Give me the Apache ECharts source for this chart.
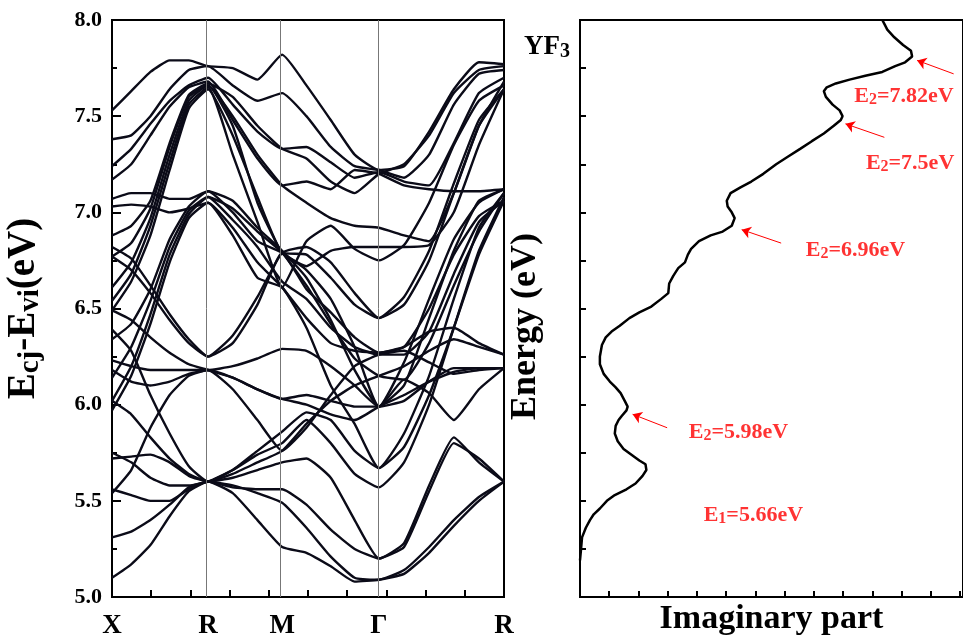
<!DOCTYPE html>
<html><head><meta charset="utf-8">
<script src="https://cdn.jsdelivr.net/npm/echarts@6/dist/echarts.min.js"></script>
<style>html,body{margin:0;padding:0;background:#fff}#c{width:963px;height:641px}</style>
</head><body><div id="c"></div>
<script>
// ---- k-path (fraction of total path) ----
const kPath = [0,0.049,0.098,0.147,0.196,0.245,0.308,0.371,0.434,0.496,0.558,0.619,0.681,0.745,0.809,0.872,0.936,1];
const kHighPos = [0, 0.245, 0.434, 0.681, 1];
const kHighLabels = ['X','R','M','Γ','R'];
const energyTicks = [5.0,5.5,6.0,6.5,7.0,7.5,8.0];

// ---- bands: Ecj - Evi (eV) at kPath points ----
const band01 = [7.53,7.63,7.73,7.79,7.79,7.76,7.75,7.69,7.82,7.66,7.48,7.30,7.22,7.24,7.42,7.64,7.78,7.77];
const band02 = [7.38,7.40,7.50,7.64,7.74,7.76,7.66,7.58,7.62,7.50,7.34,7.24,7.22,7.18,7.30,7.56,7.72,7.74];
const band03 = [7.24,7.33,7.46,7.58,7.66,7.70,7.56,7.42,7.33,7.34,7.26,7.18,7.21,7.16,7.14,7.36,7.62,7.70];
const band04 = [7.17,7.25,7.40,7.55,7.65,7.68,7.48,7.28,7.14,7.16,7.12,7.22,7.20,7.14,7.12,7.11,7.11,7.12];
const band05 = [6.49,6.64,6.88,7.22,7.54,7.64,7.40,7.08,6.79,6.78,6.66,6.52,6.45,6.52,6.75,7.10,7.45,7.64];
const band06 = [6.54,6.68,6.93,7.26,7.56,7.65,7.30,6.95,6.61,6.85,6.93,6.81,6.75,6.83,7.05,7.35,7.58,7.66];
const band07 = [6.61,6.74,6.97,7.30,7.58,7.66,7.50,7.30,7.14,7.05,6.97,6.93,6.92,6.88,6.85,7.10,7.45,7.68];
const band08 = [6.77,6.84,7.02,7.34,7.60,7.66,7.45,7.05,6.79,6.72,6.80,6.82,6.82,6.82,6.83,7.00,7.35,7.64];
const band09 = [6.88,6.93,7.06,7.36,7.61,7.67,7.60,7.45,7.33,7.28,7.16,7.10,7.20,7.25,7.40,7.62,7.74,7.76];
const band10 = [5.97,6.15,6.42,6.74,6.97,7.05,6.92,6.74,6.61,6.45,6.32,6.28,6.27,6.30,6.50,6.78,6.98,7.06];
const band11 = [6.02,6.20,6.47,6.78,6.99,7.08,6.96,6.82,6.64,6.55,6.40,6.30,6.26,6.26,6.38,6.68,6.95,7.06];
const band12 = [6.14,6.30,6.54,6.82,7.01,7.08,7.02,6.90,6.79,6.62,6.42,6.24,6.15,6.13,6.32,6.62,6.90,7.10];
const band13 = [6.34,6.42,6.60,6.86,7.03,7.11,7.06,6.92,6.80,6.66,6.44,6.18,5.99,6.22,6.55,6.86,7.05,7.12];
const band14 = [7.07,7.10,7.10,7.07,7.07,7.11,7.00,6.85,6.79,6.70,6.55,6.30,5.99,6.10,6.45,6.80,7.06,7.12];
const band15 = [7.03,7.04,7.03,7.00,7.02,7.05,6.88,6.66,6.61,6.40,6.10,5.90,5.67,5.78,6.05,6.40,6.78,7.06];
const band16 = [6.77,6.70,6.58,6.44,6.32,6.25,6.32,6.52,6.79,6.60,6.48,6.35,6.27,6.30,6.38,6.40,6.32,6.26];
const band17 = [6.82,6.76,6.62,6.47,6.34,6.25,6.36,6.56,6.79,6.82,6.74,6.58,6.45,6.56,6.80,7.15,7.48,7.64];
const band18 = [6.23,6.20,6.18,6.18,6.18,6.18,6.20,6.24,6.29,6.28,6.20,6.10,5.99,6.02,6.12,6.19,6.19,6.19];
const band19 = [6.18,6.12,6.10,6.12,6.16,6.18,6.14,6.08,6.03,6.05,6.02,5.99,5.99,6.13,6.06,5.92,6.08,6.19];
const band20 = [5.54,5.66,5.88,6.05,6.15,6.18,6.08,5.92,5.76,5.88,6.05,6.20,6.26,6.28,6.22,6.16,6.18,6.19];
const band21 = [6.39,6.28,6.05,5.85,5.68,5.60,5.64,5.70,5.76,5.90,6.02,6.10,6.15,6.20,6.28,6.34,6.30,6.26];
const band22 = [5.10,5.17,5.27,5.42,5.55,5.60,5.54,5.40,5.26,5.23,5.16,5.08,5.09,5.12,5.23,5.37,5.50,5.60];
const band23 = [5.31,5.34,5.40,5.48,5.57,5.60,5.58,5.54,5.49,5.36,5.21,5.10,5.09,5.14,5.26,5.40,5.52,5.60];
const band24 = [5.56,5.53,5.50,5.50,5.56,5.60,5.57,5.56,5.56,5.48,5.35,5.25,5.20,5.28,5.58,5.83,5.70,5.60];
const band25 = [5.72,5.73,5.74,5.70,5.63,5.60,5.62,5.66,5.70,5.72,5.62,5.40,5.20,5.26,5.55,5.80,5.72,5.60];
const band26 = [5.75,5.70,5.62,5.58,5.58,5.60,5.66,5.74,5.80,5.92,5.80,5.64,5.57,5.70,6.00,6.40,6.80,7.08];
const band27 = [6.02,5.95,5.83,5.72,5.64,5.60,5.66,5.76,5.86,5.96,5.92,5.76,5.67,5.85,6.15,6.55,6.92,7.10];
const band28 = [6.49,6.44,6.35,6.27,6.21,6.18,6.14,6.08,6.03,6.00,5.95,5.92,5.99,6.05,6.12,6.17,6.19,6.19];
const bands = [band01,band02,band03,band04,band05,band06,band07,band08,band09,band10,band11,band12,band13,band14,
  band15,band16,band17,band18,band19,band20,band21,band22,band23,band24,band25,band26,band27,band28];

// ---- imaginary part curve (right panel) ----
const imagEnergy = [5.19,5.24,5.31,5.36,5.40,5.43,5.46,5.50,5.53,5.56,5.59,5.63,5.66,5.69,5.71,5.74,5.77,5.81,5.85,5.89,5.92,5.94,5.97,5.99,6.02,6.06,6.09,6.12,6.16,6.21,6.25,6.31,6.35,6.38,6.41,6.45,6.48,6.51,6.55,6.58,6.63,6.67,6.71,6.74,6.78,6.81,6.85,6.88,6.90,6.93,6.97,7.00,7.03,7.06,7.10,7.13,7.16,7.20,7.25,7.29,7.33,7.37,7.41,7.45,7.48,7.50,7.53,7.56,7.60,7.63,7.65,7.67,7.69,7.71,7.73,7.76,7.78,7.81,7.82,7.84,7.87,7.91,7.95,7.98,8.00];
const imagPart   = [0.00,0.03,0.07,0.20,0.34,0.47,0.68,0.92,1.19,1.59,1.90,2.14,2.27,2.24,2.03,1.76,1.49,1.29,1.19,1.22,1.32,1.42,1.59,1.63,1.53,1.39,1.22,1.02,0.81,0.68,0.68,0.75,0.88,1.08,1.36,1.69,2.03,2.44,2.78,3.02,3.05,3.19,3.36,3.59,3.69,3.80,4.07,4.47,4.88,5.19,5.29,5.19,5.05,5.02,5.15,5.49,5.86,6.27,6.71,7.12,7.53,7.93,8.34,8.68,8.92,8.98,8.88,8.64,8.41,8.34,8.44,8.75,9.22,9.76,10.34,10.78,11.12,11.36,11.42,11.32,11.05,10.75,10.51,10.41,10.34];

// ---- annotations (right panel, data coordinates) ----
const annoName  = ['E','E','E','E','E'];
const annoSub   = ['2','2','2','2','1'];
const annoValue = ['7.82eV','7.5eV','6.96eV','5.98eV','5.66eV'];
const annoX     = [11.08,11.29,9.42,5.42,5.93];
const annoE     = [7.605,7.257,6.804,5.858,5.426];
const arrowFromX = [12.78,10.41,6.88,2.98];
const arrowFromE = [7.72,7.39,6.84,5.88];
const arrowToX   = [11.53,9.08,5.53,1.80];
const arrowToE   = [7.79,7.46,6.91,5.95];

const serif = '"Liberation Serif","Times New Roman","DejaVu Serif",serif';
const lineColor = '#0b0b18';

const chart = echarts.init(document.getElementById('c'), null, {renderer:'canvas'});

const bandSeries = bands.map((b, i) => ({
  type:'line', xAxisIndex:0, yAxisIndex:0, symbol:'none', smooth:0.15,
  lineStyle:{color:lineColor, width:2.4}, silent:true, z:3,
  data: b.map((v, j) => [kPath[j], v])
}));
bandSeries[0].markLine = {
  silent:true, symbol:'none', animation:false,
  lineStyle:{color:'#777', width:1, type:'solid'},
  label:{show:false},
  data: kHighPos.slice(1,4).map(v => ({xAxis:v}))
};

const option = {
  animation:false,
  backgroundColor:'#fff',
  title:{
    text:'{a|YF}{b|3}', left:519, top:27,
    textStyle:{rich:{
      a:{fontFamily:serif, fontWeight:'bold', fontSize:27, color:'#000', lineHeight:30, verticalAlign:'middle'},
      b:{fontFamily:serif, fontWeight:'bold', fontSize:20, color:'#000', lineHeight:14, verticalAlign:'bottom'}
    }}
  },
  grid:[
    {left:112, top:20, width:392, height:577, show:true, borderColor:'#000', borderWidth:2, backgroundColor:'transparent'},
    {left:580, top:20, width:386, height:577, show:true, borderColor:'#000', borderWidth:2, backgroundColor:'transparent'}
  ],
  xAxis:[
    {gridIndex:0, type:'value', min:0, max:1, interval:0.1,
     axisLine:{lineStyle:{color:'#000', width:2}},
     axisTick:{inside:true, length:7, lineStyle:{color:'#000', width:2}},
     splitLine:{show:false},
     axisLabel:{customValues:kHighPos, formatter:(v)=>{
        let best=0; kHighPos.forEach((p,i)=>{ if(Math.abs(p-v)<Math.abs(kHighPos[best]-v)) best=i; });
        return kHighLabels[best]; },
       fontFamily:serif, fontWeight:'bold', fontSize:27, color:'#000', margin:16}
    },
    {gridIndex:1, type:'value', min:0, max:13.1, interval:1,
     axisLine:{lineStyle:{color:'#000', width:2}},
     axisTick:{inside:true, length:6, lineStyle:{color:'#000', width:2}},
     splitLine:{show:false}, axisLabel:{show:false},
     name:'Imaginary part', nameLocation:'middle', nameGap:5,
     nameTextStyle:{fontFamily:serif, fontWeight:'bold', fontSize:34, color:'#000', verticalAlign:'top'}
    }
  ],
  yAxis:[
    {gridIndex:0, type:'value', min:5, max:8, interval:0.5,
     axisLine:{lineStyle:{color:'#000', width:2}},
     axisTick:{inside:true, length:9, lineStyle:{color:'#000', width:2}},
     minorTick:{show:true, splitNumber:2, length:5, lineStyle:{color:'#000', width:2}},
     splitLine:{show:false}, minorSplitLine:{show:false},
     axisLabel:{formatter:(v)=>v.toFixed(1), fontFamily:serif, fontWeight:'bold', fontSize:22, color:'#000', margin:10},
     name:'{m|E}{s|cj}{m|-E}{s|vi}{m|(eV)}', nameLocation:'middle', nameGap:67,
     nameTextStyle:{rich:{
       m:{fontFamily:serif, fontWeight:'bold', fontSize:39, color:'#000', lineHeight:42, verticalAlign:'middle'},
       s:{fontFamily:serif, fontWeight:'bold', fontSize:29, color:'#000', lineHeight:22, verticalAlign:'bottom'}
     }}
    },
    {gridIndex:1, type:'value', min:5, max:8, interval:0.25,
     axisLine:{lineStyle:{color:'#000', width:2}},
     axisTick:{inside:true, length:6, lineStyle:{color:'#000', width:2}},
     splitLine:{show:false}, axisLabel:{show:false},
     name:'Energy (eV)', nameLocation:'middle', nameGap:36,
     nameTextStyle:{fontFamily:serif, fontWeight:'bold', fontSize:36, color:'#000', padding:[0,36,0,0]}
    }
  ],
  series: bandSeries.concat([
    {type:'line', xAxisIndex:1, yAxisIndex:1, symbol:'none', silent:true,
     lineStyle:{color:'#000', width:2.5},
     data: imagPart.map((v,i)=>[v, imagEnergy[i]]),
     markLine:{silent:true, animation:false, symbol:['none','arrow'], symbolSize:9,
       lineStyle:{color:'#ff0000', width:1, type:'solid'}, label:{show:false},
       data: arrowFromX.map((x,i)=>[{coord:[x, arrowFromE[i]]},{coord:[arrowToX[i], arrowToE[i]]}])
     }
    },
    {type:'scatter', xAxisIndex:1, yAxisIndex:1, symbolSize:0, silent:true,
     data: annoX.map((x,i)=>({value:[x, annoE[i]]})),
     label:{show:true, position:'inside',
       formatter:(p)=>{const i=p.dataIndex; return '{r|'+annoName[i]+'}{s|'+annoSub[i]+'}{r|='+annoValue[i]+'}';},
       rich:{
         r:{fontFamily:serif, fontWeight:'bold', fontSize:22, color:'#ff0000', lineHeight:24, verticalAlign:'middle'},
         s:{fontFamily:serif, fontWeight:'bold', fontSize:16, color:'#ff0000', lineHeight:12, verticalAlign:'bottom'}
       }}
    }
  ])
};
chart.setOption(option);
</script></body></html>
